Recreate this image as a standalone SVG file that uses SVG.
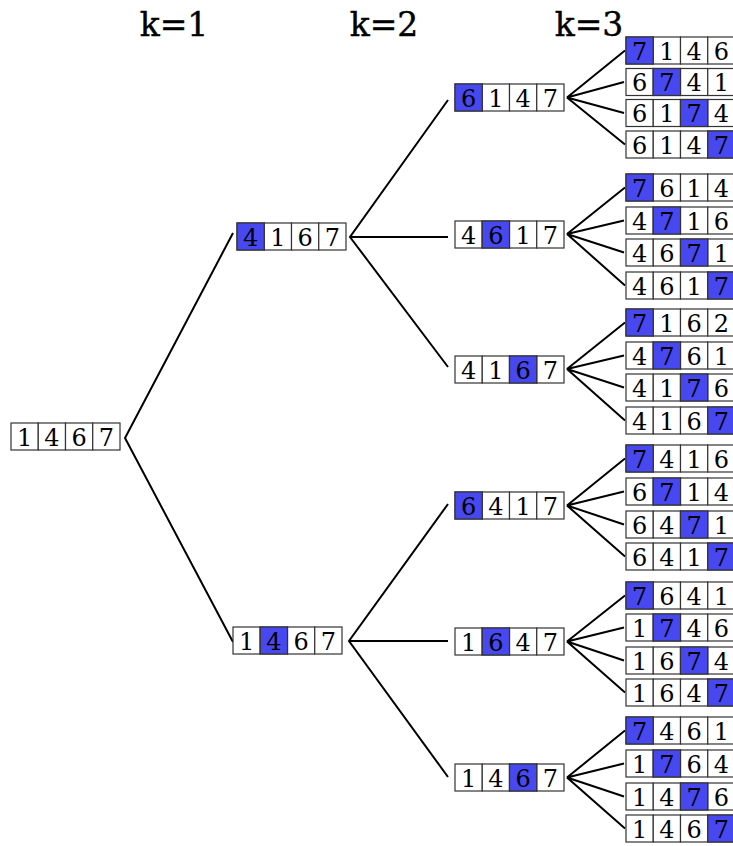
<svg xmlns="http://www.w3.org/2000/svg" width="733" height="846" viewBox="0 0 733 846">
<style>
.c{fill:#fff;stroke:#333;stroke-width:1.2}
.b{fill:#4848F0;stroke:#333;stroke-width:1.2}
.t{font-family:"DejaVu Serif","Liberation Serif",serif;font-size:24px;text-anchor:middle;fill:#000}
.k{font-family:"DejaVu Serif","Liberation Serif",serif;font-size:33px;text-anchor:middle;fill:#000;stroke:#000;stroke-width:0.4}
.e{stroke:#000;stroke-width:2;fill:none}
</style>
<defs>
<g id="cells">
<rect class="c" x="0" y="0" width="27.25" height="27"/>
<rect class="c" x="27.25" y="0" width="27.25" height="27"/>
<rect class="c" x="54.5" y="0" width="27.25" height="27"/>
<rect class="c" x="81.75" y="0" width="27.25" height="27"/>
</g>
</defs>
<g id="labels">
<text class="k" x="174" y="36">k=1</text>
<text class="k" x="384" y="36">k=2</text>
<text class="k" x="589" y="36">k=3</text>
</g>
<g id="connectors" class="e">
<path class="e" d="M233,233 L125,438 L233,642"/>
<path class="e" d="M448,100 L350,237 L448,367 M350,237 L448,237"/>
<path class="e" d="M448,504 L349,641 L448,777 M349,641 L448,641"/>
<path class="e" d="M625,50.5 L567,97.5 L624,82 M567,97.5 L624,113 M567,97.5 L625,144.5"/>
<path class="e" d="M625,187.5 L567,234 L624,220.5 M567,234 L624,252.5 M567,234 L625,285.5"/>
<path class="e" d="M625,322.5 L567,369 L624,355.5 M567,369 L624,387.5 M567,369 L625,420.5"/>
<path class="e" d="M625,458.5 L567,505.5 L624,491.5 M567,505.5 L624,524.5 M567,505.5 L625,556.5"/>
<path class="e" d="M625,595.5 L567,641.5 L624,627.5 M567,641.5 L624,660.5 M567,641.5 L625,692.5"/>
<path class="e" d="M625,730.5 L567,777.5 L624,763.5 M567,777.5 L624,796.5 M567,777.5 L625,828.5"/>
</g>
<g id="n-root" transform="translate(11,423)"><use href="#cells"/><text class="t" y="22.5"><tspan x="13.6">1</tspan><tspan x="40.9">4</tspan><tspan x="68.1">6</tspan><tspan x="95.4">7</tspan></text></g>
<g id="n-4167" transform="translate(237,223)"><use href="#cells"/><rect class="b" width="27.25" height="27"/><text class="t" y="22.5"><tspan x="13.6">4</tspan><tspan x="40.9">1</tspan><tspan x="68.1">6</tspan><tspan x="95.4">7</tspan></text></g>
<g id="n-1467b" transform="translate(233,627)"><use href="#cells"/><rect class="b" x="27.25" width="27.25" height="27"/><text class="t" y="22.5"><tspan x="13.6">1</tspan><tspan x="40.9">4</tspan><tspan x="68.1">6</tspan><tspan x="95.4">7</tspan></text></g>
<g id="n-6147" transform="translate(455,84)"><use href="#cells"/><rect class="b" width="27.25" height="27"/><text class="t" y="22.5"><tspan x="13.6">6</tspan><tspan x="40.9">1</tspan><tspan x="68.1">4</tspan><tspan x="95.4">7</tspan></text></g>
<g id="n-4617" transform="translate(455,221)"><use href="#cells"/><rect class="b" x="27.25" width="27.25" height="27"/><text class="t" y="22.5"><tspan x="13.6">4</tspan><tspan x="40.9">6</tspan><tspan x="68.1">1</tspan><tspan x="95.4">7</tspan></text></g>
<g id="n-4167c" transform="translate(455,356)"><use href="#cells"/><rect class="b" x="54.5" width="27.25" height="27"/><text class="t" y="22.5"><tspan x="13.6">4</tspan><tspan x="40.9">1</tspan><tspan x="68.1">6</tspan><tspan x="95.4">7</tspan></text></g>
<g id="n-6417" transform="translate(455,492)"><use href="#cells"/><rect class="b" width="27.25" height="27"/><text class="t" y="22.5"><tspan x="13.6">6</tspan><tspan x="40.9">4</tspan><tspan x="68.1">1</tspan><tspan x="95.4">7</tspan></text></g>
<g id="n-1647" transform="translate(455,628)"><use href="#cells"/><rect class="b" x="27.25" width="27.25" height="27"/><text class="t" y="22.5"><tspan x="13.6">1</tspan><tspan x="40.9">6</tspan><tspan x="68.1">4</tspan><tspan x="95.4">7</tspan></text></g>
<g id="n-1467c" transform="translate(455,764)"><use href="#cells"/><rect class="b" x="54.5" width="27.25" height="27"/><text class="t" y="22.5"><tspan x="13.6">1</tspan><tspan x="40.9">4</tspan><tspan x="68.1">6</tspan><tspan x="95.4">7</tspan></text></g>

<g id="l-7146" transform="translate(626,37)"><use href="#cells"/><rect class="b" x="0" width="27.25" height="27"/><text class="t" y="22.5"><tspan x="13.6">7</tspan><tspan x="40.9">1</tspan><tspan x="68.1">4</tspan><tspan x="95.4">6</tspan></text></g>
<g id="l-6741" transform="translate(626,68.5)"><use href="#cells"/><rect class="b" x="27.25" width="27.25" height="27"/><text class="t" y="22.5"><tspan x="13.6">6</tspan><tspan x="40.9">7</tspan><tspan x="68.1">4</tspan><tspan x="95.4">1</tspan></text></g>
<g id="l-6174" transform="translate(626,99.5)"><use href="#cells"/><rect class="b" x="54.5" width="27.25" height="27"/><text class="t" y="22.5"><tspan x="13.6">6</tspan><tspan x="40.9">1</tspan><tspan x="68.1">7</tspan><tspan x="95.4">4</tspan></text></g>
<g id="l-6147" transform="translate(626,131)"><use href="#cells"/><rect class="b" x="81.75" width="27.25" height="27"/><text class="t" y="22.5"><tspan x="13.6">6</tspan><tspan x="40.9">1</tspan><tspan x="68.1">4</tspan><tspan x="95.4">7</tspan></text></g>

<g id="l-7614" transform="translate(626,174)"><use href="#cells"/><rect class="b" x="0" width="27.25" height="27"/><text class="t" y="22.5"><tspan x="13.6">7</tspan><tspan x="40.9">6</tspan><tspan x="68.1">1</tspan><tspan x="95.4">4</tspan></text></g>
<g id="l-4716" transform="translate(626,207)"><use href="#cells"/><rect class="b" x="27.25" width="27.25" height="27"/><text class="t" y="22.5"><tspan x="13.6">4</tspan><tspan x="40.9">7</tspan><tspan x="68.1">1</tspan><tspan x="95.4">6</tspan></text></g>
<g id="l-4671" transform="translate(626,239)"><use href="#cells"/><rect class="b" x="54.5" width="27.25" height="27"/><text class="t" y="22.5"><tspan x="13.6">4</tspan><tspan x="40.9">6</tspan><tspan x="68.1">7</tspan><tspan x="95.4">1</tspan></text></g>
<g id="l-4617" transform="translate(626,272)"><use href="#cells"/><rect class="b" x="81.75" width="27.25" height="27"/><text class="t" y="22.5"><tspan x="13.6">4</tspan><tspan x="40.9">6</tspan><tspan x="68.1">1</tspan><tspan x="95.4">7</tspan></text></g>

<g id="l-7162" transform="translate(626,309)"><use href="#cells"/><rect class="b" x="0" width="27.25" height="27"/><text class="t" y="22.5"><tspan x="13.6">7</tspan><tspan x="40.9">1</tspan><tspan x="68.1">6</tspan><tspan x="95.4">2</tspan></text></g>
<g id="l-4761" transform="translate(626,342)"><use href="#cells"/><rect class="b" x="27.25" width="27.25" height="27"/><text class="t" y="22.5"><tspan x="13.6">4</tspan><tspan x="40.9">7</tspan><tspan x="68.1">6</tspan><tspan x="95.4">1</tspan></text></g>
<g id="l-4176" transform="translate(626,374)"><use href="#cells"/><rect class="b" x="54.5" width="27.25" height="27"/><text class="t" y="22.5"><tspan x="13.6">4</tspan><tspan x="40.9">1</tspan><tspan x="68.1">7</tspan><tspan x="95.4">6</tspan></text></g>
<g id="l-4167" transform="translate(626,407)"><use href="#cells"/><rect class="b" x="81.75" width="27.25" height="27"/><text class="t" y="22.5"><tspan x="13.6">4</tspan><tspan x="40.9">1</tspan><tspan x="68.1">6</tspan><tspan x="95.4">7</tspan></text></g>

<g id="l-7416" transform="translate(626,445)"><use href="#cells"/><rect class="b" x="0" width="27.25" height="27"/><text class="t" y="22.5"><tspan x="13.6">7</tspan><tspan x="40.9">4</tspan><tspan x="68.1">1</tspan><tspan x="95.4">6</tspan></text></g>
<g id="l-6714" transform="translate(626,478)"><use href="#cells"/><rect class="b" x="27.25" width="27.25" height="27"/><text class="t" y="22.5"><tspan x="13.6">6</tspan><tspan x="40.9">7</tspan><tspan x="68.1">1</tspan><tspan x="95.4">4</tspan></text></g>
<g id="l-6471" transform="translate(626,511)"><use href="#cells"/><rect class="b" x="54.5" width="27.25" height="27"/><text class="t" y="22.5"><tspan x="13.6">6</tspan><tspan x="40.9">4</tspan><tspan x="68.1">7</tspan><tspan x="95.4">1</tspan></text></g>
<g id="l-6417" transform="translate(626,543)"><use href="#cells"/><rect class="b" x="81.75" width="27.25" height="27"/><text class="t" y="22.5"><tspan x="13.6">6</tspan><tspan x="40.9">4</tspan><tspan x="68.1">1</tspan><tspan x="95.4">7</tspan></text></g>

<g id="l-7641" transform="translate(626,582)"><use href="#cells"/><rect class="b" x="0" width="27.25" height="27"/><text class="t" y="22.5"><tspan x="13.6">7</tspan><tspan x="40.9">6</tspan><tspan x="68.1">4</tspan><tspan x="95.4">1</tspan></text></g>
<g id="l-1746" transform="translate(626,614)"><use href="#cells"/><rect class="b" x="27.25" width="27.25" height="27"/><text class="t" y="22.5"><tspan x="13.6">1</tspan><tspan x="40.9">7</tspan><tspan x="68.1">4</tspan><tspan x="95.4">6</tspan></text></g>
<g id="l-1674" transform="translate(626,647)"><use href="#cells"/><rect class="b" x="54.5" width="27.25" height="27"/><text class="t" y="22.5"><tspan x="13.6">1</tspan><tspan x="40.9">6</tspan><tspan x="68.1">7</tspan><tspan x="95.4">4</tspan></text></g>
<g id="l-1647" transform="translate(626,679)"><use href="#cells"/><rect class="b" x="81.75" width="27.25" height="27"/><text class="t" y="22.5"><tspan x="13.6">1</tspan><tspan x="40.9">6</tspan><tspan x="68.1">4</tspan><tspan x="95.4">7</tspan></text></g>

<g id="l-7461" transform="translate(626,717)"><use href="#cells"/><rect class="b" x="0" width="27.25" height="27"/><text class="t" y="22.5"><tspan x="13.6">7</tspan><tspan x="40.9">4</tspan><tspan x="68.1">6</tspan><tspan x="95.4">1</tspan></text></g>
<g id="l-1764" transform="translate(626,750)"><use href="#cells"/><rect class="b" x="27.25" width="27.25" height="27"/><text class="t" y="22.5"><tspan x="13.6">1</tspan><tspan x="40.9">7</tspan><tspan x="68.1">6</tspan><tspan x="95.4">4</tspan></text></g>
<g id="l-1476" transform="translate(626,783)"><use href="#cells"/><rect class="b" x="54.5" width="27.25" height="27"/><text class="t" y="22.5"><tspan x="13.6">1</tspan><tspan x="40.9">4</tspan><tspan x="68.1">7</tspan><tspan x="95.4">6</tspan></text></g>
<g id="l-1467" transform="translate(626,815)"><use href="#cells"/><rect class="b" x="81.75" width="27.25" height="27"/><text class="t" y="22.5"><tspan x="13.6">1</tspan><tspan x="40.9">4</tspan><tspan x="68.1">6</tspan><tspan x="95.4">7</tspan></text></g>
</svg>
